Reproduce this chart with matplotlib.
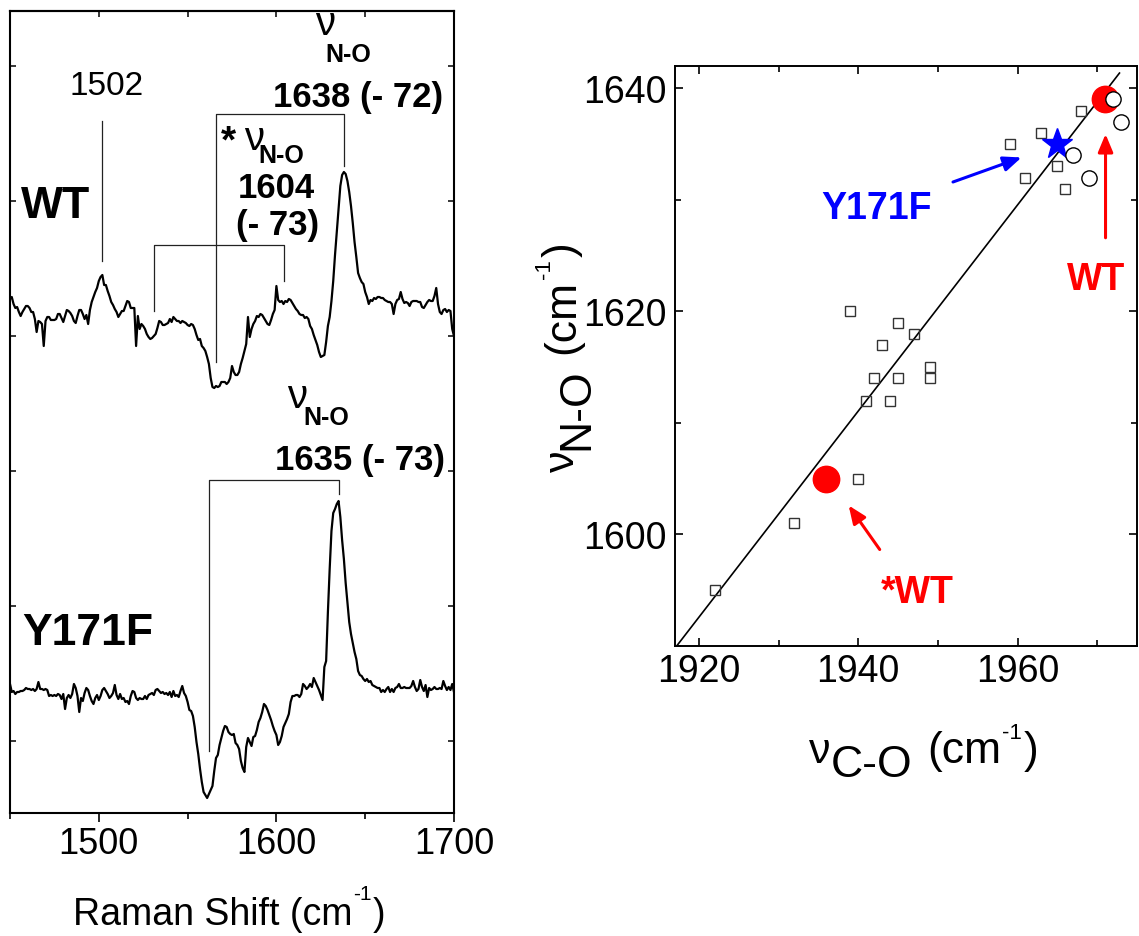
import numpy as np
import matplotlib
matplotlib.use("Agg")
import matplotlib.pyplot as plt
from matplotlib.ticker import MultipleLocator
from matplotlib.transforms import IdentityTransform

plt.rcParams["font.family"] = ["Liberation Sans", "DejaVu Sans"]

# ---------------- Raman difference spectra (arbitrary units, 1 cm-1 steps) ----------------
wavenumber = np.arange(1450, 1701)

wt_intensity = [
    442, 444, 437, 433, 434, 429, 425, 429, 432, 435,   # 1450
    435, 433, 429, 429, 422, 409, 420, 419, 417, 395,   # 1460
    420, 424, 424, 421, 421, 421, 422, 427, 427, 423,   # 1470
    419, 425, 431, 430, 428, 425, 420, 418, 425, 431,   # 1480
    431, 427, 422, 426, 417, 431, 439, 444, 449, 453,   # 1490
    460, 464, 466, 456, 456, 450, 445, 439, 436, 432,   # 1500
    429, 424, 427, 430, 430, 435, 440, 439, 433, 433,   # 1510
    433, 395, 425, 412, 417, 415, 412, 407, 404, 402,   # 1520
    403, 405, 407, 413, 420, 419, 416, 416, 417, 418,   # 1530
    422, 419, 424, 422, 420, 420, 418, 420, 419, 418,   # 1540
    416, 415, 417, 416, 412, 406, 401, 402, 395, 393,   # 1550
    390, 384, 377, 363, 354, 353, 355, 354, 355, 359,   # 1560
    359, 359, 357, 359, 363, 375, 369, 366, 366, 369,   # 1570
    377, 383, 390, 397, 424, 404, 412, 417, 420, 425,   # 1580
    424, 427, 426, 423, 420, 417, 416, 421, 427, 431,   # 1590
    455, 441, 439, 440, 437, 440, 439, 442, 441, 438,   # 1600
    435, 432, 430, 427, 426, 426, 423, 424, 422, 415,   # 1610
    412, 406, 401, 396, 389, 384, 385, 386, 399, 415,   # 1620
    424, 440, 460, 486, 509, 532, 555, 566, 569, 567,   # 1630
    560, 549, 535, 518, 499, 484, 468, 463, 459, 457,   # 1640
    449, 444, 437, 441, 440, 443, 442, 444, 444, 443,   # 1650
    443, 441, 440, 439, 439, 437, 427, 437, 441, 442,   # 1660
    449, 442, 438, 439, 438, 435, 439, 440, 440, 440,   # 1670
    439, 439, 434, 433, 436, 439, 441, 440, 440, 445,   # 1680
    453, 437, 429, 427, 431, 432, 429, 431, 430, 412,   # 1690
    405,                                                # 1700
]

y171f_intensity = [
    57, 49, 50, 47, 49, 49, 50, 50, 51, 53,             # 1450
    52, 52, 51, 52, 50, 52, 59, 52, 52, 51,             # 1460
    52, 51, 45, 46, 45, 46, 45, 47, 46, 42,             # 1470
    47, 32, 43, 46, 43, 47, 57, 53, 45, 29,             # 1480
    43, 40, 48, 53, 51, 45, 40, 37, 43, 46,             # 1490
    41, 45, 51, 53, 50, 47, 43, 45, 48, 56,             # 1500
    46, 42, 47, 42, 43, 39, 40, 37, 45, 50,             # 1510
    49, 43, 41, 43, 42, 42, 45, 42, 46, 47,             # 1520
    48, 46, 51, 52, 50, 48, 49, 47, 48, 46,             # 1530
    49, 44, 50, 45, 46, 44, 50, 55, 48, 45,             # 1540
    39, 31, 30, 25, 14, -1, -13, -28, -41, -51,         # 1550
    -54, -57, -53, -49, -45, -30, -17, -14, -4, 3,      # 1560
    10, 15, 14, 9, 7, 6, 7, -2, -4, -8,                 # 1570
    -20, -27, -31, -6, 3, -1, -5, 4, 5, 11,             # 1580
    19, 23, 29, 37, 35, 31, 26, 21, 15, 10,             # 1590
    6, -4, -1, 5, 14, 18, 22, 27, 39, 45,               # 1600
    45, 46, 46, 44, 47, 57, 55, 52, 54, 57,             # 1610
    54, 63, 59, 55, 51, 46, 41, 74, 80, 129,            # 1620
    172, 210, 228, 232, 237, 240, 224, 201, 182, 158,   # 1630
    139, 119, 107, 98, 89, 82, 70, 66, 65, 62,          # 1640
    60, 62, 59, 60, 56, 55, 54, 53, 53, 49,             # 1650
    51, 49, 52, 54, 49, 52, 49, 53, 54, 57,             # 1660
    53, 53, 54, 53, 53, 53, 55, 60, 54, 50,             # 1670
    52, 61, 54, 50, 56, 44, 53, 51, 52, 54,             # 1680
    52, 52, 53, 52, 60, 55, 51, 54, 51, 57,             # 1690
    49,                                                 # 1700
]

# isotope-shift brackets: labelled band, shift, heights of the bracket
band_positions = [1638, 1604, 1635]
band_shifts = [72, 73, 73]
bracket_top = [627, 496, 261]
bracket_left_end = [379, 430, -10]
bracket_right_end = [575, 460, 247]

# ---------------- nu(N-O) versus nu(C-O) correlation ----------------
ref_co = [1968, 1963, 1959, 1965, 1961, 1966, 1939, 1945, 1947, 1943,
          1942, 1945, 1949, 1949, 1941, 1944, 1940, 1932, 1922]
ref_no = [1638, 1636, 1635, 1633, 1632, 1631, 1620, 1619, 1618, 1617,
          1614, 1614, 1615, 1614, 1612, 1612, 1605, 1601, 1595]
open_co = [1972, 1973, 1967, 1969]
open_no = [1639, 1637, 1634, 1632]
wt_co = [1971, 1936]
wt_no = [1639, 1605]
y171f_co = [1965]
y171f_no = [1635]
fit_slope = 0.924
fit_intercept = -181.5
fit_range = [1917.3, 1972.8]

W, H = 1139, 937
fig = plt.figure(figsize=(W / 100, H / 100), dpi=100)


def px_axes(left, top, right, bottom):
    return fig.add_axes([left / W, 1 - bottom / H, (right - left) / W, (bottom - top) / H])


def text_runs(x0, y0, runs, vertical=False):
    """Place consecutive text pieces (text, size, rise, gap) in pixel coordinates."""
    renderer = fig.canvas.get_renderer()
    advance = 0.0
    for s, size, rise, gap in runs:
        advance += gap
        if vertical:
            t = fig.text(x0 - rise, y0 + advance, s, fontsize=size, rotation=90,
                         rotation_mode="anchor", ha="left", va="baseline",
                         transform=IdentityTransform())
            advance += t.get_window_extent(renderer).height
        else:
            t = fig.text(x0 + advance, y0 + rise, s, fontsize=size,
                         ha="left", va="baseline", transform=IdentityTransform())
            advance += t.get_window_extent(renderer).width


# ================= left panel: spectra =================
ax1 = px_axes(10, 12, 454, 814)
ax1.plot(wavenumber, wt_intensity, color="black", lw=1.6)
ax1.plot(wavenumber, y171f_intensity, color="black", lw=1.6)
ax1.set_xlim(1450, 1700)
ax1.set_ylim(-72, 730)
ax1.xaxis.set_major_locator(MultipleLocator(100))
ax1.xaxis.set_minor_locator(MultipleLocator(50))
ax1.set_yticks([0, 135, 270, 405, 540, 675])
ax1.set_yticklabels([])
ax1.tick_params(axis="x", which="both", direction="out", top=False,
                labelsize=26, width=1.2, pad=3)
ax1.tick_params(axis="x", which="major", length=6.5)
ax1.tick_params(axis="x", which="minor", length=4)
ax1.tick_params(axis="y", direction="in", left=True, right=True, length=4, width=1.1)
top1 = ax1.secondary_xaxis("top")
top1.xaxis.set_major_locator(MultipleLocator(100))
top1.xaxis.set_minor_locator(MultipleLocator(50))
top1.tick_params(which="both", direction="in", labeltop=False, length=4, width=1.1)
for sp in list(ax1.spines.values()) + list(top1.spines.values()):
    sp.set_linewidth(1.5)

bracket_kw = dict(color="#222222", lw=0.9)
for band, shift, ytop, yl, yr in zip(band_positions, band_shifts, bracket_top,
                                     bracket_left_end, bracket_right_end):
    partner = band - shift
    ax1.plot([partner, partner, band, band], [yl, ytop, ytop, yr], **bracket_kw)
ax1.plot([1502, 1502], [480, 620], **bracket_kw)

bold = dict(fontweight="bold", ha="center", va="baseline")
ax1.text(1504.6, 647, "1502", fontsize=24, ha="center", va="baseline")
ax1.text(1475.9, 524, "WT", fontsize=32, **bold)
ax1.text(1493.6, 97, "Y171F", fontsize=32, **bold)

nu_kw = dict(fontsize=29, ha="center", va="baseline")
ax1.text(1627.4, 707, "ν", **nu_kw)
ax1.text(1627.4, 680, "N-O", fontsize=18, fontweight="bold", ha="left", va="baseline")
ax1.text(1645.7, 635, f"{band_positions[0]} (- {band_shifts[0]})", fontsize=25, **bold)

ax1.text(1573.0, 590, "*", fontsize=28, **bold)
ax1.text(1587.3, 592, "ν", **nu_kw)
ax1.text(1590.0, 579, "N-O", fontsize=18, fontweight="bold", ha="left", va="baseline")
ax1.text(1599.8, 544, f"{band_positions[1]}", fontsize=25, **bold)
ax1.text(1600.6, 507, f"(- {band_shifts[1]})", fontsize=25, **bold)

ax1.text(1611.6, 334, "ν", **nu_kw)
ax1.text(1615.0, 317, "N-O", fontsize=18, fontweight="bold", ha="left", va="baseline")
ax1.text(1647.1, 272, f"{band_positions[2]} (- {band_shifts[2]})", fontsize=25, **bold)

# ================= right panel: correlation =================
ax2 = px_axes(675, 67, 1137, 647)
fx = np.array(fit_range)
ax2.plot(fx, fit_slope * fx + fit_intercept, color="black", lw=1.2, zorder=2)
ax2.plot(ref_co, ref_no, "s", ms=7.5, mfc="none", mec="#333333", mew=1.0, zorder=3)
ax2.plot(wt_co, wt_no, "o", ms=19, color="#ff0000", zorder=4)
ax2.plot(open_co, open_no, "o", ms=11, mfc="white", mec="black", mew=1.0, zorder=5)
ax2.plot(y171f_co, y171f_no, "*", ms=23, color="#0000ff", zorder=4)
ax2.set_xlim(1917, 1975)
ax2.set_ylim(1590, 1642)
ax2.xaxis.set_major_locator(MultipleLocator(20))
ax2.xaxis.set_minor_locator(MultipleLocator(10))
ax2.yaxis.set_major_locator(MultipleLocator(20))
ax2.yaxis.set_minor_locator(MultipleLocator(10))
ax2.tick_params(which="both", direction="in", top=True, right=True, width=1.2,
                labelsize=27)
ax2.tick_params(which="major", length=6)
ax2.tick_params(which="minor", length=4)
ax2.tick_params(axis="x", pad=5)
ax2.tick_params(axis="y", pad=6)
for sp in ax2.spines.values():
    sp.set_linewidth(1.4)

arrow_style = "-|>,head_length=0.6,head_width=0.25"
ax2.annotate("", xy=(1960.5, 1633.8), xytext=(1951.9, 1631.6),
             arrowprops=dict(arrowstyle=arrow_style, color="#0000ff", lw=2.2,
                             mutation_scale=18, shrinkA=0, shrinkB=0))
ax2.annotate("", xy=(1971.05, 1635.9), xytext=(1971.05, 1626.6),
             arrowprops=dict(arrowstyle=arrow_style, color="#ff0000", lw=2.2,
                             mutation_scale=18, shrinkA=0, shrinkB=0))
ax2.annotate("", xy=(1938.8, 1602.6), xytext=(1942.7, 1598.65),
             arrowprops=dict(arrowstyle=arrow_style, color="#ff0000", lw=2.2,
                             mutation_scale=18, shrinkA=0, shrinkB=0))
ax2.text(1942.3, 1628.4, "Y171F", color="#0000ff", fontsize=27, **bold)
ax2.text(1969.9, 1621.97, "WT", color="#ff0000", fontsize=27, **bold)
ax2.text(1947.4, 1593.9, "*WT", color="#ff0000", fontsize=27, **bold)

# axis titles built from pieces (pixel coordinates, origin bottom-left)
text_runs(73, H - 925, [("Raman Shift (cm", 27, 0, 0), ("-1", 15, 25, 1), (")", 27, 0, 1)])
text_runs(809, H - 763, [("ν", 31, 0, 0), ("C-O", 32, -14, 0), ("(cm", 32, 0, 15),
                         ("-1", 16, 24, 1), (")", 32, 0, 2)])
text_runs(574, H - 472, [("ν", 31, 0, 0), ("N-O", 32, -14, 0), ("(cm", 32, 0, 15),
                         ("-1", 16, 24, 1), (")", 32, 0, 2)], vertical=True)

fig.savefig("out.png", dpi=100)
